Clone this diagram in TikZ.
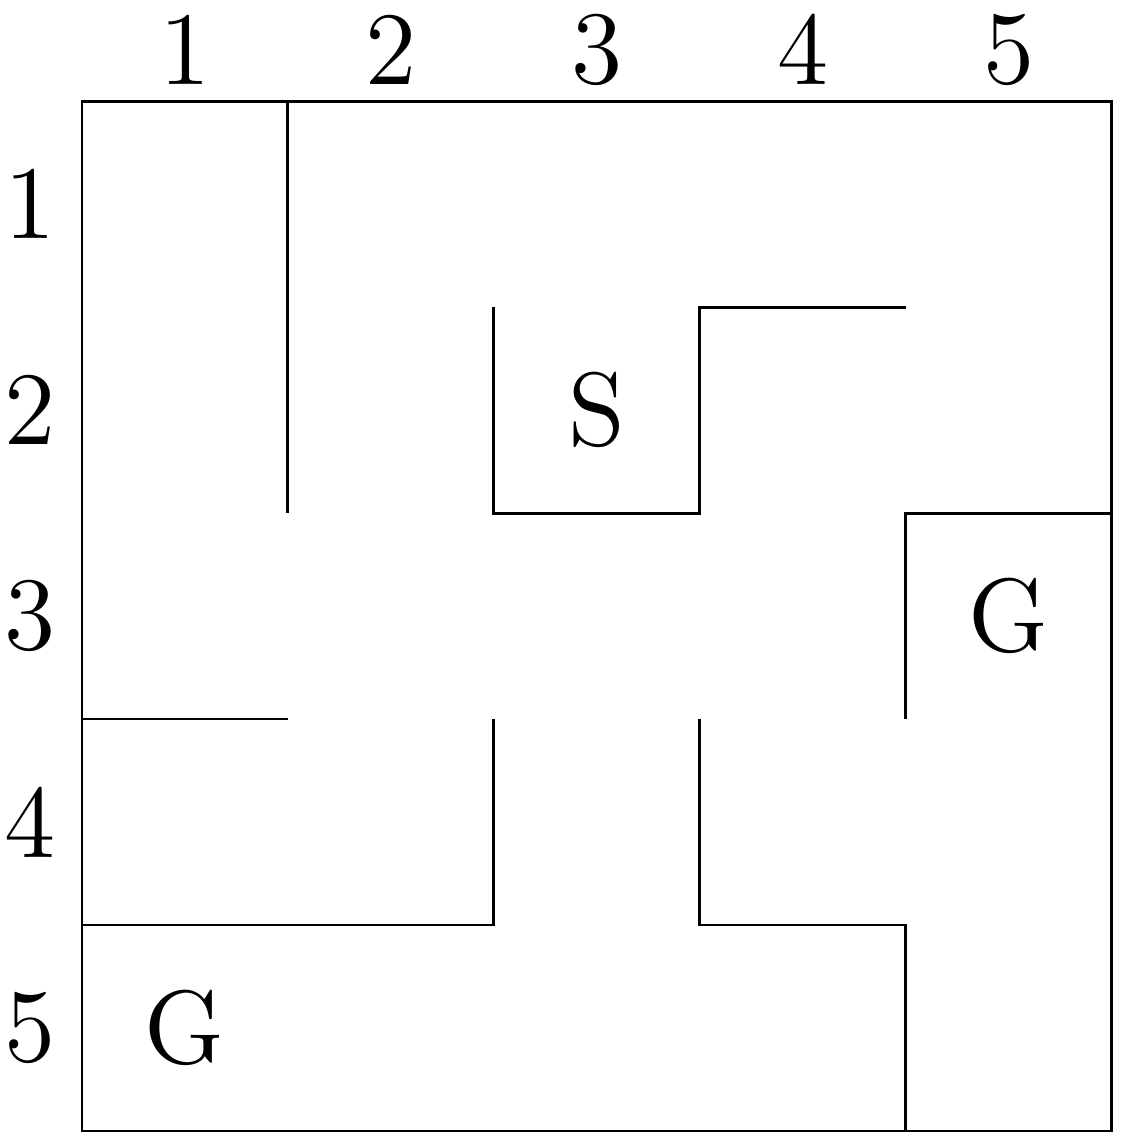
\documentclass[tikz,border=0pt]{standalone}
\usepackage{tikz}
\usetikzlibrary{positioning}

\begin{document}
\begin{tikzpicture}[x=1cm,y=1cm,font=\Large]
  % --- maze size (number of cells) ---
  \def\N{5}     % cells per side
  \def\off{0.25}% label offset from the frame

  \useasboundingbox (-0.398,-0.073) rectangle (5.078,5.491);

  % --- outer boundary (frame) ---
  \draw (0,0) rectangle (\N,\N);

  % --- column and row numbers ---
  \foreach \i in {1,...,\N} {
    \node (col\i) at (\i-0.5,\N+\off) {\i};
    \node (row\i) at (-\off,\N+0.5-\i) {\i};
  }

  % --- inner walls ---
  \draw (1,5) -- (1,3);
  \draw (2,4) -- (2,3) -- (3,3) -- (3,4) -- (4,4);
  \draw (5,3) -- (4,3) -- (4,2);
  \draw (0,2) -- (1,2);
  \draw (2,2) -- (2,1) -- (0,1);
  \draw (3,2) -- (3,1) -- (4,1) -- (4,0);

  % --- start and goal cells ---
  \node (start) at (2.5,3.5) {S};
  \node (goalA) at (4.5,2.5) {G};
  \node (goalB) at (0.5,0.5) {G};
\end{tikzpicture}
\end{document}
